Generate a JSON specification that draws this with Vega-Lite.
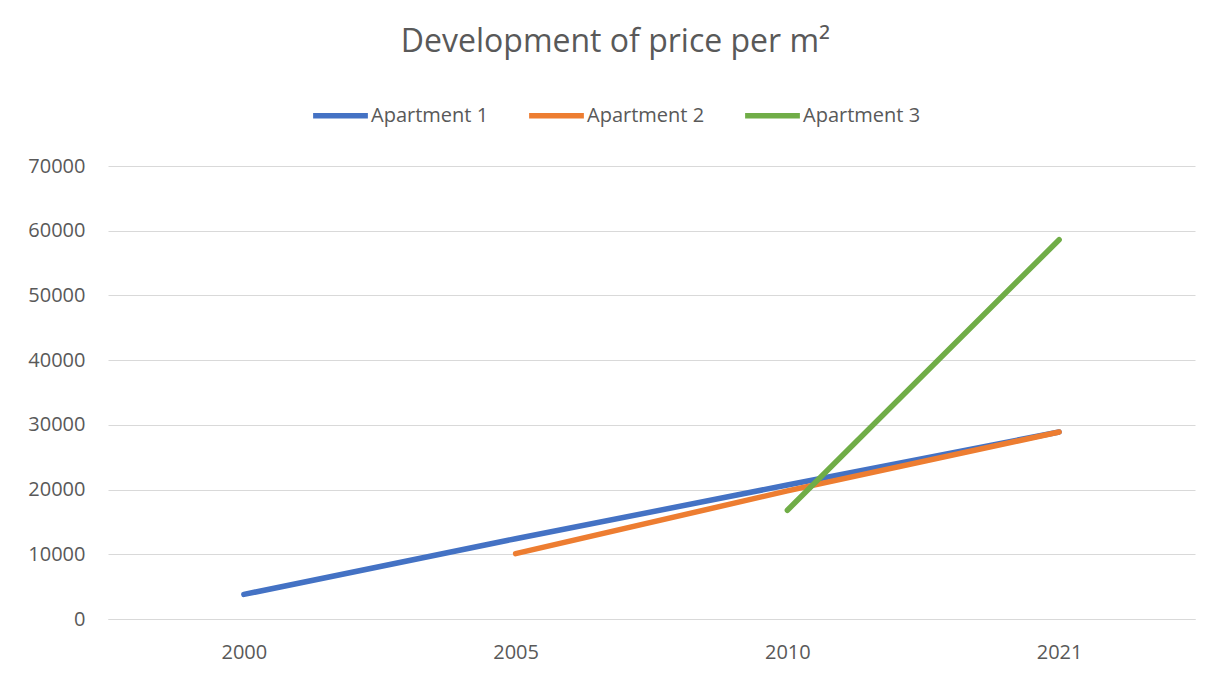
{
  "$schema": "https://vega.github.io/schema/vega-lite/v6.json",
  "width": 1087,
  "height": 453,
  "autosize": "none",
  "padding": {"left": 108, "top": 166, "right": 22, "bottom": 55},
  "background": "white",
  "title": {
    "text": "Development of price per m²",
    "font": "Open Sans",
    "fontSize": 32,
    "fontWeight": "normal",
    "color": "#595959",
    "anchor": "middle",
    "frame": "group",
    "dx": -36,
    "offset": 26
  },
  "data": {
    "values": [
      {"year": "2000", "series": "Apartment 1", "price": 3800},
      {"year": "2005", "series": "Apartment 1", "price": 12400},
      {"year": "2010", "series": "Apartment 1", "price": 20700},
      {"year": "2021", "series": "Apartment 1", "price": 28900},
      {"year": "2005", "series": "Apartment 2", "price": 10100},
      {"year": "2010", "series": "Apartment 2", "price": 19800},
      {"year": "2021", "series": "Apartment 2", "price": 28900},
      {"year": "2010", "series": "Apartment 3", "price": 16800},
      {"year": "2021", "series": "Apartment 3", "price": 58600}
    ]
  },
  "mark": {"type": "line", "strokeWidth": 5.5, "strokeCap": "round", "strokeJoin": "round"},
  "encoding": {
    "x": {
      "field": "year",
      "type": "ordinal",
      "sort": ["2000", "2005", "2010", "2021"],
      "scale": {"type": "point", "padding": 0.5, "domain": ["2000", "2005", "2010", "2021"]},
      "axis": {
        "title": null,
        "labelAngle": 0,
        "ticks": false,
        "domain": true,
        "domainColor": "#D9D9D9",
        "domainWidth": 1,
        "grid": false,
        "labelFont": "Open Sans",
        "labelFontSize": 20,
        "labelColor": "#595959",
        "labelPadding": 23
      }
    },
    "y": {
      "field": "price",
      "type": "quantitative",
      "scale": {"domain": [0, 70000], "nice": false},
      "axis": {
        "title": null,
        "values": [0, 10000, 20000, 30000, 40000, 50000, 60000, 70000],
        "format": "d",
        "ticks": false,
        "domain": false,
        "grid": true,
        "gridColor": "#D9D9D9",
        "gridWidth": 1,
        "labelFont": "Open Sans",
        "labelFontSize": 20,
        "labelColor": "#595959",
        "labelPadding": 23
      }
    },
    "color": {
      "field": "series",
      "type": "nominal",
      "scale": {
        "domain": ["Apartment 1", "Apartment 2", "Apartment 3"],
        "range": ["#4472C4", "#ED7D31", "#70AD47"]
      },
      "legend": {
        "title": null,
        "orient": "none",
        "direction": "horizontal",
        "legendX": 202,
        "legendY": -81,
        "symbolType": "stroke",
        "symbolSize": 3000,
        "symbolStrokeWidth": 5.5,
        "labelFont": "Open Sans",
        "labelFontSize": 20,
        "labelColor": "#595959",
        "labelOffset": 0,
        "columnPadding": 29
      }
    }
  },
  "config": {
    "view": {"stroke": null}
  }
}
